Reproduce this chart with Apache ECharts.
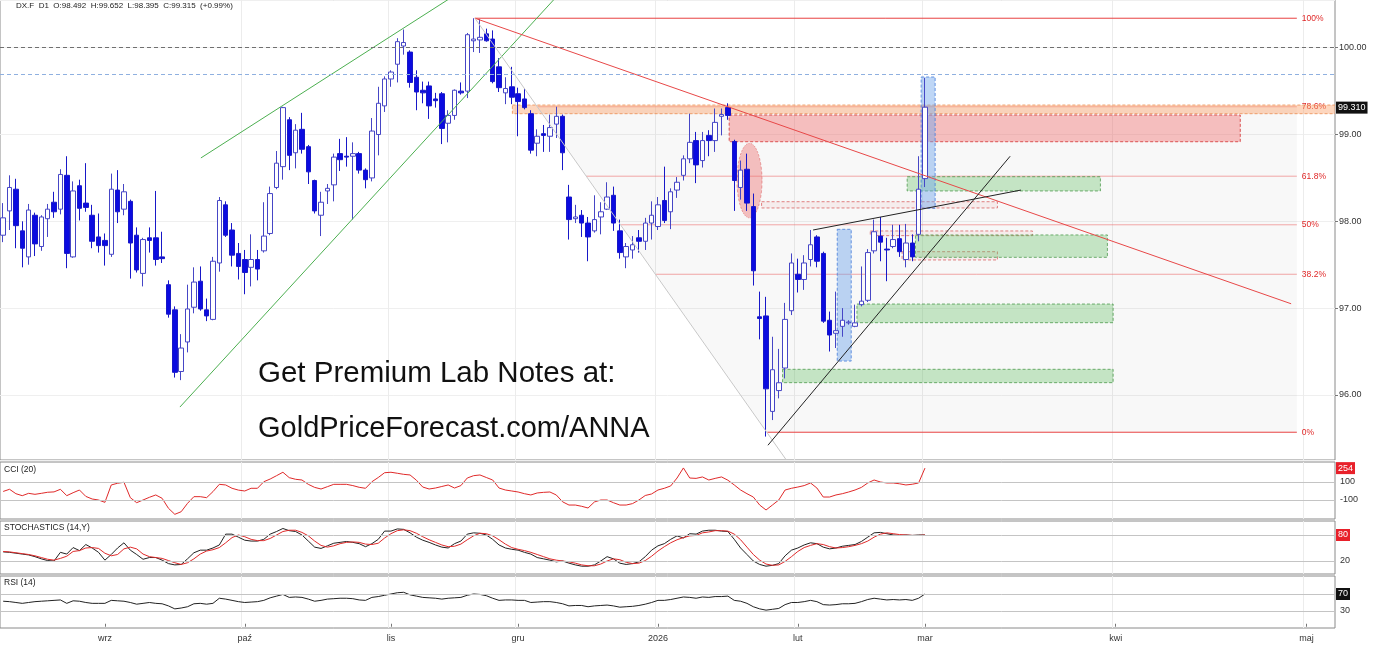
<!DOCTYPE html>
<html><head><meta charset="utf-8">
<script src="https://cdn.jsdelivr.net/npm/echarts@6/dist/echarts.min.js"></script>
<style>html,body{margin:0;padding:0;background:#fff}#c{width:1385px;height:646px}</style>
</head><body><div id="c"></div>
<script>
// ---------- DATA ----------
const symbolName = 'DX.F', timeframe = 'D1', lastChange = '+0.99%';
const firstBarDate = '2025-08-08', lastBarDate = '2026-03-02', skipDays = ['2025-12-25'], totalSlots = 210;
const monthAbbr = ['sty','lut','mar','kwi','maj','cze','lip','sie','wrz','paź','lis','gru'];

const opens = [97.84,98.12,98.37,97.89,97.59,98.07,97.71,98.03,98.22,98.14,98.53,97.59,98.41,98.21,98.07,97.82,97.78,97.62,98.36,98.14,
98.23,97.84,97.40,97.81,97.81,97.59,97.27,96.98,96.27,96.61,97.01,97.31,96.98,96.87,97.52,98.19,97.90,97.63,97.56,97.47,
97.56,97.66,97.86,98.39,98.63,99.17,98.79,99.06,98.86,98.47,98.07,98.35,98.42,98.78,98.75,98.75,98.78,98.59,98.50,99.00,
99.33,99.64,99.81,100.02,99.95,99.66,99.51,99.56,99.41,99.47,99.13,99.22,99.50,99.50,100.08,100.09,100.16,100.10,99.78,99.48,
99.55,99.47,99.41,99.24,98.90,99.01,98.98,99.12,99.21,98.28,98.03,98.07,97.98,97.89,98.05,98.14,98.30,97.89,97.59,97.67,
97.81,97.77,97.98,97.94,98.24,98.11,98.36,98.53,98.72,98.93,98.70,98.99,98.93,99.21,99.31,98.92,98.39,98.60,98.17,96.90,
96.91,95.81,96.05,96.31,96.97,97.39,97.33,97.56,97.82,97.63,96.86,96.71,96.79,96.83,96.79,97.04,97.09,97.66,97.83,97.68,
97.71,97.80,97.56,97.75,97.85,98.492];
const highs = [98.21,98.53,98.49,98.00,98.20,98.10,98.07,98.20,98.34,98.60,98.75,98.46,98.48,98.67,98.19,98.09,97.86,98.55,98.59,98.43,
98.25,97.93,97.81,97.93,98.35,97.88,97.32,97.02,96.70,97.27,97.47,97.48,97.11,97.59,98.28,98.23,97.98,97.75,97.67,97.85,
97.67,98.22,98.40,98.81,99.32,99.20,99.12,99.25,98.88,98.48,98.34,98.43,98.78,98.95,98.97,98.91,98.80,98.61,99.19,99.55,
99.67,99.74,100.11,100.21,99.97,99.74,99.61,99.61,99.48,99.49,99.28,99.52,99.60,100.17,100.34,100.33,100.22,100.20,99.88,99.66,
99.78,99.54,99.53,99.28,99.06,99.11,99.23,99.32,99.23,98.42,98.19,98.13,98.05,98.30,98.22,98.45,98.40,98.02,97.75,97.83,
97.90,98.04,98.23,98.28,98.63,98.38,98.51,98.76,99.24,99.03,99.03,99.05,99.30,99.30,99.36,98.94,98.70,98.78,98.32,97.19,
97.13,96.67,96.53,97.06,97.63,97.57,97.61,97.90,97.84,97.65,96.96,97.19,97.00,96.86,97.04,97.48,97.68,98.02,98.05,97.81,
97.96,97.96,97.97,97.85,98.75,99.652];
const lows = [97.76,97.90,97.69,97.47,97.50,97.60,97.66,97.82,98.04,98.08,97.46,97.58,98.01,98.11,97.69,97.64,97.49,97.59,97.98,98.07,
97.34,97.41,97.25,97.64,97.49,97.52,96.89,96.20,96.17,96.49,96.94,96.97,96.85,96.86,97.42,97.82,97.48,97.33,97.16,97.25,
97.32,97.64,97.84,98.37,98.48,98.59,98.61,98.78,98.43,98.09,97.83,98.20,98.23,98.58,98.63,98.02,98.55,98.38,98.46,98.76,
99.26,99.55,99.60,99.92,99.54,99.28,99.36,99.18,99.31,98.89,98.91,99.17,99.46,99.42,99.95,99.94,100.07,99.59,99.49,99.35,
99.35,98.98,99.29,98.78,98.75,98.80,98.80,98.96,98.59,97.79,97.98,97.82,97.54,97.87,97.85,98.13,97.89,97.57,97.46,97.57,
97.64,97.67,97.79,97.90,97.98,97.91,98.27,98.47,98.67,98.44,98.62,98.75,98.80,98.99,99.17,98.12,98.25,98.12,97.26,96.64,
95.52,95.71,95.96,96.19,96.92,97.18,97.21,97.48,97.47,96.83,96.50,96.54,96.67,96.81,96.78,97.02,97.07,97.63,97.54,97.31,
97.69,97.59,97.47,97.54,97.77,98.395];
const closes = [98.04,98.39,97.95,97.69,98.13,97.74,98.05,98.14,98.11,98.54,97.63,98.35,98.15,98.16,97.77,97.72,97.72,98.37,98.11,98.34,
97.75,97.44,97.79,97.78,97.56,97.57,96.93,96.26,96.54,96.99,97.30,96.99,96.91,97.54,98.24,97.84,97.61,97.48,97.41,97.56,
97.45,97.83,98.32,98.67,99.31,98.76,99.05,98.83,98.57,98.12,98.22,98.38,98.74,98.71,98.74,98.78,98.59,98.48,99.04,99.36,
99.64,99.72,100.07,100.06,99.60,99.49,99.48,99.33,99.39,99.07,99.22,99.51,99.48,100.15,100.10,100.12,100.08,99.61,99.54,99.53,
99.43,99.38,99.31,98.82,98.98,98.99,99.08,99.21,98.79,98.02,98.05,97.98,97.82,98.02,98.11,98.28,97.98,97.64,97.71,97.73,
97.77,97.98,98.07,98.19,98.01,98.34,98.45,98.72,98.91,98.65,98.93,98.93,99.14,99.23,99.22,98.47,98.59,98.21,97.43,96.88,
96.07,96.29,96.14,96.87,97.52,97.33,97.52,97.73,97.54,96.85,96.69,96.74,96.86,96.84,96.83,97.08,97.64,97.88,97.76,97.67,
97.79,97.65,97.75,97.59,98.37,99.315];

const cci = [-5,19,-30,-52,-26,-37,-26,-14,-10,19,-52,-19,11,-60,-89,-100,-126,67,86,97,
-74,-130,-100,-70,-44,-81,-192,-259,-230,-137,-63,-63,-74,-7,74,67,30,10,0,30,
30,103,133,170,208,148,130,122,74,40,22,48,74,74,74,60,41,30,103,150,
203,208,197,185,178,120,44,22,33,50,67,33,60,144,170,178,150,122,33,11,
0,-11,-30,-44,-22,-15,-11,-44,-120,-156,-156,-170,-189,-122,-100,-100,-130,-156,-156,-140,
-100,-50,-33,11,30,56,144,256,144,140,156,122,140,156,120,67,11,-30,-67,-156,
-211,-156,-100,11,30,44,60,89,33,-67,-67,-44,-30,-11,11,40,89,122,100,89,
89,80,67,75,89,254];
const stochK = [41,40,38,36,34,30,25,21,20,40,36,51,44,58,50,40,22,35,50,62,
45,35,24,28,28,22,14,11,12,25,39,45,45,50,57,82,82,75,68,66,
66,70,82,88,95,90,88,80,66,52,49,55,61,63,65,63,60,53,60,70,
89,89,94,93,85,75,68,63,57,52,50,60,66,82,85,84,80,70,57,50,
47,45,40,36,28,25,22,18,20,15,11,8,8,11,20,30,25,15,12,14,
18,30,45,55,60,70,78,73,83,82,89,91,91,89,88,70,50,35,20,12,
8,10,14,32,45,50,57,62,60,52,48,50,54,56,58,65,75,85,86,83,
80,79,80,79,80,80];
const stochD = [42,41,39,37,35,32,28,24,22,26,31,42,44,50,51,49,38,32,35,48,
52,48,36,30,28,26,21,16,12,16,25,36,43,46,51,62,74,80,76,70,
67,67,72,80,88,91,91,86,78,66,56,52,55,60,63,64,63,59,58,61,
73,83,90,92,90,84,76,69,63,57,53,54,59,69,78,84,83,78,69,59,
51,47,44,40,35,30,25,22,20,18,15,11,9,9,13,20,25,23,17,14,
15,21,31,43,53,62,69,74,78,79,85,87,90,90,89,82,69,52,35,22,
13,10,11,19,30,42,51,56,60,58,53,50,51,53,56,60,66,75,82,85,
83,81,80,79,79,80];
const rsi = [53,52,50,48,50,52,53,54,55,56,48,54,53,50,48,48,48,55,54,53,
50,46,48,50,48,47,42,35,37,40,47,48,46,48,60,58,55,52,50,51,
52,55,61,65,69,62,63,62,58,53,55,58,59,60,60,59,56,55,62,64,
67,70,73,74,68,65,62,61,60,58,60,61,62,67,70,69,66,60,55,56,
56,55,55,50,51,52,52,50,47,42,43,43,40,42,43,44,42,39,40,41,
43,46,50,55,55,57,60,63,62,60,63,62,64,64,65,55,53,48,40,35,
32,34,36,45,50,50,52,55,52,45,44,45,47,47,48,52,57,60,58,56,
57,56,57,55,60,70];

// indicator levels and current-value tags
const cciLevels = [100, -100], stochLevels = [80, 20], rsiLevels = [70, 30];
const lastPriceTag = 99.31;
const dashedLevels = [100.00, 99.70];

// annotations in (bar index, price) space
const fibLevels = [100.34, 99.32, 98.52, 97.96, 97.39, 95.57];
const fibNames  = ['100%','78.6%','61.8%','50%','38.2%','0%'];
const fibStarts = [74.2, 84.1, 91.7, 97.2, 102.7, 120.2];
const fibEnd = 203.5;
const fibShade = [[84.1, 99.32],[203.5, 99.32],[203.5, 95.57],[120.2, 95.57]];
const orangeZones = [[80.1, 209.6, 99.34, 99.24]];
const redZones    = [[114.2, 194.6, 99.225, 98.917]];
const pinkBoxes   = [[119.3, 156.4, 98.226, 98.154],[136.4, 161.9, 97.889, 97.835],[141.4, 156.4, 97.65, 97.555]];
const greenZones  = [[142.2, 172.6, 98.514, 98.35],[143.5, 173.7, 97.843, 97.585],[134.3, 174.6, 97.047, 96.832],[122.6, 174.6, 96.295, 96.141]];
const blueZones   = [[131.2, 133.4, 97.908, 96.39],[144.4, 146.6, 99.663, 98.15]];
const redEllipse  = [[117.4, 98.47, 1.97, 0.43]];
const greenLines  = [[31.1, 98.73, 75.2, 100.80],[27.8, 95.86, 89.7, 100.80]];
const redLines    = [[74.2, 100.34, 202.6, 97.05]];
const grayLines   = [[74.2, 100.34, 125.6, 95.0]];
const blackLines  = [[120.3, 95.42, 158.4, 98.75],[127.4, 97.90, 160.1, 98.36]];
const noteLines = ['Get Premium Lab Notes at:', 'GoldPriceForecast.com/ANNA'];

// ---------- BUILD ----------
function fmtDate(d){return d.toISOString().slice(0,10);}
const categories = [];
(function(){
  const p = firstBarDate.split('-').map(Number);
  const d = new Date(Date.UTC(p[0], p[1]-1, p[2]));
  while (categories.length < totalSlots) {
    const s = fmtDate(d), dow = d.getUTCDay();
    if (s > lastBarDate || (dow !== 0 && dow !== 6 && skipDays.indexOf(s) < 0)) categories.push(s);
    d.setUTCDate(d.getUTCDate() + 1);
  }
})();
const monthStart = categories.map((c,i)=> i>0 && c.slice(0,7)!==categories[i-1].slice(0,7));
const monthLabel = v => { const m = +v.slice(5,7)-1; return m===0 ? v.slice(0,4) : monthAbbr[m]; };
const isMonth = (idx) => !!monthStart[idx];

const candleData = opens.map((o,i)=>[o, closes[i], lows[i], highs[i]]);

const FONT = 'Liberation Sans, Arial, Helvetica, sans-serif';
const LEFT = -3, WIDTH = 1338;
const grids = [
  {left:LEFT, top:-2, width:WIDTH, height:462},
  {left:LEFT, top:462, width:WIDTH, height:57},
  {left:LEFT, top:521, width:WIDTH, height:53},
  {left:LEFT, top:576, width:WIDTH, height:52}
].map(g=>Object.assign({show:true, borderColor:'#8a8a8a', borderWidth:1, backgroundColor:'rgba(0,0,0,0)'}, g));

const TRANSPARENT = 'rgba(0,0,0,0)';
function catAxis(gi, showLabels){
  return {type:'category', gridIndex:gi, data:categories, boundaryGap:true,
    axisLine:{show:false},
    axisTick:{show:showLabels, alignWithLabel:true, interval:isMonth, length:3, lineStyle:{color:'#777'}},
    axisLabel:{show:showLabels, interval:isMonth, formatter:monthLabel, fontSize:9, color:'#333', margin:6, fontFamily:FONT},
    splitLine:{show:true, interval:isMonth, showMinLine:false, showMaxLine:false, lineStyle:{color:'#ececec', width:1}}};
}
const xAxes = [catAxis(0,false),
  {type:'value', gridIndex:0, min:-0.5, max:totalSlots-0.5, show:false},
  catAxis(1,false), catAxis(2,false), catAxis(3,true)];

const yAxes = [
  {type:'value', gridIndex:0, position:'right', min:95.25, max:100.55, splitNumber:5,
    axisLine:{show:false, onZero:false}, axisTick:{show:true, length:3, lineStyle:{color:'#777'}},
    axisLabel:{fontSize:9, color:'#333', margin:4, fontFamily:FONT, showMinLabel:false, showMaxLabel:false,
      formatter:v=>v.toFixed(2)},
    splitLine:{show:true, lineStyle:{color:'#efefef'}}},
  {type:'value', gridIndex:1, min:-311, max:322, show:false},
  {type:'value', gridIndex:2, min:-10, max:112.3, show:false},
  {type:'value', gridIndex:3, min:-10, max:112.35, show:false}
];

function levelMarks(levels, tagValue, tagColor){
  const d = levels.map(v=>({yAxis:v, lineStyle:{color:'#c4c4c4', width:1, type:'solid'},
    label:{show:true, position:'end', formatter:String(v), color:'#333', fontSize:9, distance:5, fontFamily:FONT}}));
  d.push({yAxis:tagValue, lineStyle:{color:TRANSPARENT, width:1},
    label:{show:true, position:'end', formatter:String(tagValue), color:'#fff', backgroundColor:tagColor,
      padding:[2,2,1,2], fontSize:9, distance:1, fontFamily:FONT}});
  return {silent:true, symbol:['none','none'], animation:false, data:d};
}

function zoneSeries(data, fill, stroke, z){
  return {type:'custom', xAxisIndex:1, yAxisIndex:0, clip:true, z, silent:true, animation:false,
    encode:{x:[0,1], y:[2,3]}, data,
    renderItem(params, api){
      const a = api.coord([api.value(0), api.value(2)]);
      const b = api.coord([api.value(1), api.value(3)]);
      return {type:'rect', shape:{x:a[0], y:a[1], width:b[0]-a[0], height:b[1]-a[1]},
        style:{fill, stroke, lineWidth:1, lineDash:[3,2]}};
    }};
}
function lineSeries(data, stroke, width, z){
  return {type:'custom', xAxisIndex:1, yAxisIndex:0, clip:true, z, silent:true, animation:false,
    encode:{x:[0,2], y:[1,3]}, data,
    renderItem(params, api){
      const a = api.coord([api.value(0), api.value(1)]);
      const b = api.coord([api.value(2), api.value(3)]);
      return {type:'line', shape:{x1:a[0], y1:a[1], x2:b[0], y2:b[1]}, style:{stroke, lineWidth:width}};
    }};
}

const series = [
  {type:'custom', xAxisIndex:1, yAxisIndex:0, clip:true, z:1, silent:true, animation:false,
    encode:{x:0, y:1}, data:fibShade,
    renderItem(params, api){
      if (params.dataIndex !== 0) return null;
      return {type:'polygon', shape:{points:fibShade.map(p=>api.coord(p))}, style:{fill:'rgba(0,0,0,0.028)'}};
    }},
  {type:'custom', xAxisIndex:1, yAxisIndex:0, clip:false, z:2, silent:true, animation:false,
    encode:{x:0, y:2}, data:fibLevels.map((v,i)=>[fibStarts[i], fibEnd, v, i]),
    renderItem(params, api){
      const i = api.value(3);
      const a = api.coord([api.value(0), api.value(2)]);
      const b = api.coord([api.value(1), api.value(2)]);
      const strong = (i===0 || i===fibLevels.length-1);
      return {type:'group', children:[
        {type:'line', shape:{x1:a[0], y1:a[1], x2:b[0], y2:b[1]},
          style:{stroke: strong ? '#e84040' : 'rgba(235,110,110,0.6)', lineWidth:1}},
        {type:'text', x:b[0]+5, y:b[1], style:{text:fibNames[i], fill:'#e02828', fontSize:8.5,
          fontFamily:FONT, verticalAlign:'middle', align:'left'}}
      ]};
    }},
  zoneSeries(orangeZones, 'rgba(250,165,110,0.45)', 'rgba(235,140,80,0.8)', 2),
  zoneSeries(redZones, 'rgba(240,110,110,0.42)', 'rgba(215,60,60,0.85)', 2),
  zoneSeries(pinkBoxes, 'rgba(240,160,160,0.12)', 'rgba(215,90,90,0.75)', 2),
  zoneSeries(greenZones, 'rgba(110,195,110,0.38)', 'rgba(70,150,70,0.75)', 2),
  zoneSeries(blueZones, 'rgba(110,165,235,0.45)', 'rgba(70,125,220,0.8)', 2),
  {type:'custom', xAxisIndex:1, yAxisIndex:0, clip:true, z:2, silent:true, animation:false,
    encode:{x:0, y:1}, data:redEllipse,
    renderItem(params, api){
      const c = api.coord([api.value(0), api.value(1)]);
      const e = api.coord([api.value(0)+api.value(2), api.value(1)+api.value(3)]);
      const rx = e[0]-c[0], ry = c[1]-e[1];
      return {type:'circle', x:c[0], y:c[1], scaleX:rx/ry, shape:{cx:0, cy:0, r:ry},
        style:{fill:'rgba(235,110,110,0.42)', stroke:'rgba(215,70,70,0.7)', lineWidth:1, lineDash:[3,2]}};
    }},
  {type:'candlestick', name:symbolName, xAxisIndex:0, yAxisIndex:0, data:candleData, z:3, barWidth:5,
    animation:false,
    itemStyle:{color:'#ffffff', color0:'#0b0be0', borderColor:'#4646c6', borderColor0:'#1818c8', borderWidth:1},
    markLine:{silent:true, symbol:['none','none'], animation:false, data:[
      {yAxis:dashedLevels[0], lineStyle:{color:'#707070', type:[4,3], width:1}, label:{show:false}},
      {yAxis:dashedLevels[1], lineStyle:{color:'#8fb0e0', type:[4,3], width:1}, label:{show:false}},
      {yAxis:lastPriceTag, lineStyle:{color:TRANSPARENT, width:1},
        label:{show:true, position:'end', formatter:lastPriceTag.toFixed(3), color:'#fff', backgroundColor:'#111',
          padding:[2,2,1,2], fontSize:9, distance:1, fontFamily:FONT}}
    ]}},
  lineSeries(greenLines, '#4caf50', 1, 4),
  lineSeries(redLines, '#e84848', 1, 4),
  lineSeries(grayLines, '#c8c8c8', 1, 4),
  lineSeries(blackLines, '#222', 1, 4),
  {type:'line', xAxisIndex:2, yAxisIndex:1, data:cci, symbol:'none', animation:false,
    lineStyle:{color:'#e02a2a', width:1}, markLine:levelMarks(cciLevels, cci[cci.length-1], '#e8202a')},
  {type:'line', xAxisIndex:3, yAxisIndex:2, data:stochK, symbol:'none', animation:false,
    lineStyle:{color:'#222', width:1}, markLine:levelMarks(stochLevels, stochD[stochD.length-1], '#e8202a')},
  {type:'line', xAxisIndex:3, yAxisIndex:2, data:stochD, symbol:'none', animation:false,
    lineStyle:{color:'#e02a2a', width:1}},
  {type:'line', xAxisIndex:4, yAxisIndex:3, data:rsi, symbol:'none', animation:false,
    lineStyle:{color:'#222', width:1}, markLine:levelMarks(rsiLevels, rsi[rsi.length-1], '#111')}
];

// hide level label where the tag sits on the same value
series.forEach(s=>{ if (s.markLine && s.type==='line') {
  const d = s.markLine.data; const tag = d[d.length-1].yAxis;
  d.slice(0,-1).forEach(it=>{ if (it.yAxis===tag) it.label.show=false; });
}});

const lastI = opens.length-1;
const header = `${symbolName}  ${timeframe}  O:${opens[lastI].toFixed(3)}  H:${highs[lastI].toFixed(3)}  L:${lows[lastI].toFixed(3)}  C:${closes[lastI].toFixed(3)}  (${lastChange})`;

const chart = echarts.init(document.getElementById('c'), null, {renderer:'canvas'});
chart.setOption({
  backgroundColor:'#fff', animation:false,
  textStyle:{fontFamily:FONT},
  grid:grids, xAxis:xAxes, yAxis:yAxes, series,
  graphic:[
    {type:'text', left:16, top:2, style:{text:header, fontSize:8, fill:'#222', fontFamily:FONT}},
    {type:'text', left:4, top:465, style:{text:'CCI (20)', fontSize:8.5, fill:'#222', fontFamily:FONT}},
    {type:'text', left:4, top:523, style:{text:'STOCHASTICS (14,Y)', fontSize:8.5, fill:'#222', fontFamily:FONT}},
    {type:'text', left:4, top:578, style:{text:'RSI (14)', fontSize:8.5, fill:'#222', fontFamily:FONT}},
    {type:'text', left:258, top:359, z:10, style:{text:noteLines[0], fontSize:29.5, fill:'#111', fontFamily:FONT}},
    {type:'text', left:258, top:414, z:10, style:{text:noteLines[1], fontSize:29, fill:'#111', fontFamily:FONT}}
  ]
});
</script></body></html>
